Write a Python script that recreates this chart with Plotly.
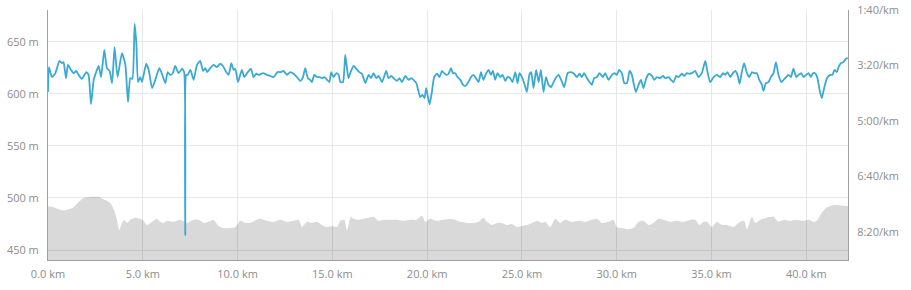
import plotly.graph_objects as go

# Pace series (distance km, pace seconds per km)
pace_km = [0.00, 0.05, 0.21, 0.39, 0.60, 0.74, 0.82, 0.95, 1.05, 1.21, 1.35, 1.49, 1.61, 1.79, 2.02, 2.14, 2.27, 2.41, 2.49, 2.67,
           2.80, 2.97, 3.11, 3.25, 3.38, 3.51, 3.67, 3.90, 4.08, 4.22, 4.34, 4.45, 4.57, 4.66, 4.75, 4.87, 4.96, 5.18, 5.31, 5.49,
           5.66, 5.87, 6.01, 6.19, 6.31, 6.45, 6.57, 6.71, 6.89, 7.07, 7.18, 7.24, 7.29, 7.36, 7.51, 7.68, 7.86, 8.03, 8.18, 8.30,
           8.39, 8.56, 8.73, 8.91, 9.09, 9.23, 9.40, 9.53, 9.67, 9.79, 9.88, 10.02, 10.14, 10.23, 10.35, 10.50, 10.71, 10.84, 10.99, 11.11,
           11.34, 11.55, 11.72, 11.90, 12.11, 12.29, 12.43, 12.61, 12.78, 12.95, 13.13, 13.31, 13.45, 13.57, 13.71, 13.83, 13.92, 14.05, 14.19, 14.33,
           14.45, 14.59, 14.72, 14.84, 14.94, 15.06, 15.21, 15.33, 15.42, 15.56, 15.68, 15.77, 15.85, 15.94, 16.12, 16.26, 16.42, 16.56, 16.74, 16.91,
           17.04, 17.17, 17.32, 17.44, 17.62, 17.84, 17.96, 18.11, 18.26, 18.41, 18.54, 18.67, 18.85, 19.02, 19.16, 19.28, 19.43, 19.55, 19.64, 19.76,
           19.86, 19.95, 20.02, 20.13, 20.25, 20.37, 20.52, 20.65, 20.78, 20.90, 21.01, 21.13, 21.26, 21.36, 21.48, 21.60, 21.75, 21.89, 22.01, 22.18,
           22.31, 22.45, 22.59, 22.71, 22.84, 22.97, 23.12, 23.24, 23.36, 23.47, 23.59, 23.71, 23.86, 23.98, 24.12, 24.24, 24.38, 24.50, 24.65, 24.77,
           24.87, 25.00, 25.12, 25.26, 25.39, 25.49, 25.61, 25.75, 25.88, 26.00, 26.14, 26.27, 26.40, 26.53, 26.67, 26.81, 26.93, 27.07, 27.23, 27.41,
           27.55, 27.72, 27.90, 28.04, 28.16, 28.28, 28.43, 28.57, 28.69, 28.81, 28.96, 29.09, 29.27, 29.39, 29.57, 29.75, 29.88, 30.01, 30.13, 30.27,
           30.40, 30.54, 30.68, 30.80, 30.89, 31.01, 31.15, 31.28, 31.41, 31.56, 31.71, 31.86, 31.98, 32.12, 32.29, 32.44, 32.57, 32.73, 32.86, 33.00,
           33.14, 33.26, 33.44, 33.56, 33.70, 33.84, 33.97, 34.14, 34.31, 34.49, 34.67, 34.79, 34.93, 35.11, 35.28, 35.46, 35.60, 35.72, 35.84, 35.99,
           36.13, 36.25, 36.37, 36.48, 36.60, 36.72, 36.87, 36.99, 37.13, 37.25, 37.39, 37.52, 37.66, 37.74, 37.87, 38.01, 38.13, 38.27, 38.40, 38.53,
           38.68, 38.80, 38.94, 39.06, 39.19, 39.32, 39.47, 39.59, 39.73, 39.85, 39.99, 40.12, 40.24, 40.35, 40.47, 40.59, 40.70, 40.82, 40.94, 41.09,
           41.26, 41.38, 41.49, 41.61, 41.70, 41.82, 41.96, 42.09, 42.19]
pace_sec = [248, 203, 221, 214, 192, 196, 194, 223, 199, 208, 214, 210, 217, 224, 212, 217, 270, 226, 217, 201,
            221, 172, 205, 210, 232, 167, 221, 178, 199, 266, 223, 224, 125, 160, 230, 221, 230, 197, 208, 241,
            226, 205, 215, 232, 212, 217, 215, 201, 214, 206, 212, 506, 217, 217, 208, 226, 199, 192, 210, 205,
            212, 205, 199, 203, 197, 201, 212, 217, 196, 208, 206, 230, 217, 208, 221, 214, 206, 221, 215, 217,
            214, 217, 219, 221, 212, 212, 210, 217, 212, 215, 221, 228, 221, 205, 223, 226, 230, 217, 221, 221,
            223, 221, 226, 230, 212, 221, 214, 217, 230, 230, 181, 205, 223, 214, 201, 206, 212, 215, 232, 217,
            223, 214, 223, 219, 230, 210, 223, 219, 224, 228, 223, 230, 219, 226, 223, 226, 232, 248, 257, 253,
            259, 241, 253, 270, 248, 221, 215, 221, 210, 214, 217, 215, 205, 214, 214, 221, 226, 235, 237, 230,
            221, 217, 224, 230, 212, 226, 214, 208, 217, 210, 226, 214, 221, 217, 228, 221, 223, 230, 212, 232,
            214, 221, 232, 248, 217, 212, 241, 208, 230, 208, 248, 221, 235, 239, 230, 221, 217, 226, 239, 214,
            212, 214, 221, 215, 221, 214, 223, 230, 235, 223, 221, 214, 221, 214, 226, 217, 214, 217, 208, 214,
            232, 232, 210, 217, 232, 248, 235, 226, 241, 223, 215, 219, 226, 221, 223, 219, 223, 221, 226, 230,
            219, 221, 215, 219, 214, 215, 214, 210, 221, 214, 192, 212, 230, 221, 217, 221, 214, 217, 212, 221,
            214, 210, 217, 233, 212, 196, 214, 221, 212, 214, 214, 226, 235, 246, 232, 230, 221, 214, 194, 217,
            230, 226, 221, 217, 221, 206, 221, 217, 214, 221, 217, 214, 221, 214, 214, 223, 244, 259, 241, 223,
            217, 217, 208, 212, 203, 196, 194, 188, 187]

# Elevation series (distance km, metres)
elev_km = [0.00, 0.30, 0.56, 0.82, 1.09, 1.35, 1.61, 1.88, 2.23, 2.67, 3.02, 3.29, 3.50, 3.64, 3.76, 3.90, 4.02, 4.17, 4.34, 4.60,
           4.87, 5.04, 5.22, 5.40, 5.57, 5.75, 5.92, 6.10, 6.28, 6.62, 6.98, 7.33, 7.68, 7.94, 8.21, 8.47, 8.73, 9.00, 9.26, 9.62,
           9.88, 10.14, 10.41, 10.67, 11.02, 11.20, 11.55, 11.90, 12.25, 12.61, 12.95, 13.22, 13.40, 13.66, 13.92, 14.19, 14.45, 14.72, 14.98, 15.24,
           15.42, 15.63, 15.77, 15.98, 16.12, 16.38, 16.65, 16.91, 17.17, 17.44, 17.70, 18.05, 18.41, 18.76, 19.11, 19.46, 19.73, 19.90, 20.16, 20.52,
           20.87, 21.22, 21.48, 21.75, 22.10, 22.45, 22.71, 22.97, 23.15, 23.42, 23.68, 23.94, 24.21, 24.47, 24.74, 25.00, 25.26, 25.53, 25.79, 26.05,
           26.23, 26.49, 26.76, 27.02, 27.28, 27.64, 27.99, 28.34, 28.69, 28.96, 29.22, 29.57, 29.83, 30.01, 30.27, 30.54, 30.89, 31.15, 31.41, 31.68,
           31.94, 32.20, 32.47, 32.82, 33.17, 33.52, 33.88, 34.14, 34.37, 34.58, 34.76, 35.02, 35.28, 35.55, 35.81, 36.16, 36.51, 36.72, 36.87, 37.13,
           37.31, 37.57, 37.92, 38.27, 38.53, 38.80, 39.15, 39.50, 39.85, 40.12, 40.38, 40.56, 40.82, 41.09, 41.43, 41.70, 42.20]
elev_m = [492, 491, 489, 488, 489, 491, 496, 500, 501, 501, 498, 495, 488, 479, 469, 476, 479, 476, 479, 481,
          480, 478, 474, 476, 478, 480, 477, 476, 478, 477, 479, 476, 479, 479, 476, 477, 479, 473, 471, 471,
          472, 478, 476, 476, 479, 480, 478, 477, 479, 477, 478, 479, 472, 477, 476, 477, 474, 472, 473, 472,
          478, 479, 469, 482, 480, 479, 480, 481, 482, 478, 479, 479, 479, 478, 479, 479, 483, 477, 480, 478,
          479, 480, 479, 477, 476, 476, 477, 481, 477, 474, 476, 476, 474, 475, 472, 473, 474, 476, 478, 476,
          477, 472, 480, 476, 479, 477, 478, 477, 479, 480, 476, 477, 479, 472, 471, 470, 471, 477, 478, 474,
          476, 480, 479, 477, 478, 477, 479, 479, 474, 477, 477, 472, 477, 474, 474, 472, 477, 478, 470, 482,
          476, 479, 481, 482, 477, 479, 478, 479, 478, 479, 477, 478, 486, 491, 493, 493, 492]

elev_ticks = [450, 500, 550, 600, 650]
pace_ticks = [100, 200, 300, 400, 500]
dist_ticks = [0, 5, 10, 15, 20, 25, 30, 35, 40]


def fmt_pace(s):
    return f"{s // 60}:{s % 60:02d}/km"


fig = go.Figure()
fig.add_trace(go.Scatter(
    x=elev_km, y=elev_m, mode="lines", line=dict(width=0, shape="spline", smoothing=0.6),
    fill="tozeroy", fillcolor="rgba(0,0,0,0.15)", hoverinfo="skip", yaxis="y"))
fig.add_trace(go.Scatter(
    x=pace_km, y=pace_sec, mode="lines",
    line=dict(color="#3aa9d6", width=1.8, shape="spline", smoothing=0.5),
    yaxis="y2", hoverinfo="skip"))

font = dict(family="Open Sans, sans-serif", size=11, color="#8c8c8c")
fig.update_layout(
    width=911, height=290,
    margin=dict(l=48, r=63, t=10, b=30, autoexpand=False),
    paper_bgcolor="white", plot_bgcolor="white",
    showlegend=False,
    font=font,
    xaxis=dict(range=[0, 42.2], tickvals=dist_ticks, ticktext=[f"{v:.1f} km" for v in dist_ticks],
               showgrid=True, gridcolor="#e8e8e8", gridwidth=1, zeroline=False, automargin=False,
               showline=True, linecolor="#a0a0a0", linewidth=1, ticks="", ticklabelstandoff=4),
    yaxis=dict(range=[440.4, 680.4], tickvals=elev_ticks, ticktext=[f"{v} m" for v in elev_ticks],
               showgrid=True, gridcolor="#e8e8e8", gridwidth=1, zeroline=False, automargin=False,
               showline=True, linecolor="#a0a0a0", linewidth=1, ticks="", ticklabelstandoff=6),
    yaxis2=dict(range=[551, 100], overlaying="y", side="right", tickvals=pace_ticks,
                ticktext=[fmt_pace(v) for v in pace_ticks], showgrid=False, zeroline=False,
                automargin=False,
                showline=True, linecolor="#a0a0a0", linewidth=1, ticks="", ticklabelstandoff=6),
)

fig.write_html("out.html")
